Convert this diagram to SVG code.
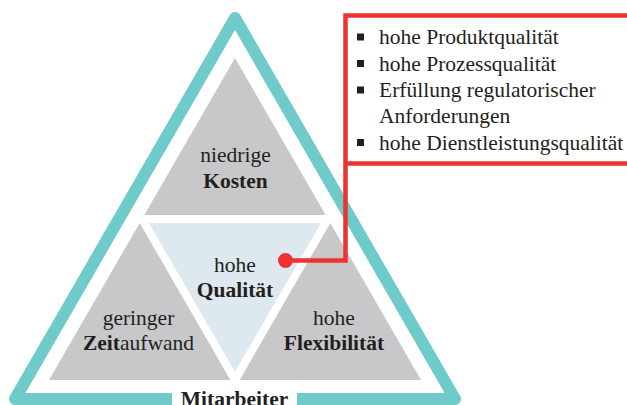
<svg xmlns="http://www.w3.org/2000/svg" width="627" height="405" viewBox="0 0 627 405">
<style>
text{font-family:"Liberation Serif","Times New Roman",serif;font-size:21.5px;fill:#231F20}
.b{font-weight:bold}
.c{text-anchor:middle}
.red{fill:none;stroke:#EE3131;stroke-width:4.5}
.bul{fill:#231F20}
</style>
<rect width="627" height="405" fill="#fff"/>
<g id="frame">
<polygon points="235,18 455,399 15,399" fill="none" stroke="#6FCACA" stroke-width="12" stroke-linejoin="round"/>
</g>
<g id="pyramid">
<polygon points="235,58 421,380 49,380" fill="#C8C8CA"/>
</g>
<g id="qualitaet">
<polygon points="142,219 328,219 235,380" fill="#DDE9EE" stroke="#fff" stroke-width="8" stroke-linejoin="miter"/>
<text class="c" x="235" y="272">hohe</text>
<text class="c b" x="235" y="297">Qualität</text>
</g>
<g id="kosten">
<text class="c" x="235.5" y="162">niedrige</text>
<text class="c b" x="235.5" y="188">Kosten</text>
</g>
<g id="zeitaufwand">
<text class="c" x="138.5" y="325">geringer</text>
<text class="c" x="138.5" y="350"><tspan class="b">Zeit</tspan>aufwand</text>
</g>
<g id="flexibilitaet">
<text class="c" x="334" y="325">hohe</text>
<text class="c b" x="334" y="350">Flexibilität</text>
</g>
<g id="mitarbeiter">
<rect x="172" y="385" width="125" height="25" fill="#fff"/>
<text class="c b" x="234.5" y="406">Mitarbeiter</text>
</g>
<g id="connectors">
<path class="red" d="M640,15.5 H345.5 V260.5 H286"/>
<path class="red" d="M345.5,163.5 H640"/>
<circle cx="285.5" cy="260.5" r="7.5" fill="#EE3131"/>
</g>
<g id="details">
<rect class="bul" x="357" y="33.5" width="7" height="7"/>
<rect class="bul" x="357" y="60" width="7" height="7"/>
<rect class="bul" x="357" y="86.5" width="7" height="7"/>
<rect class="bul" x="357" y="139" width="7" height="7"/>
<text x="379" y="44">hohe Produktqualität</text>
<text x="379" y="70.5">hohe Prozessqualität</text>
<text x="379" y="97">Erfüllung regulatorischer</text>
<text x="379" y="123">Anforderungen</text>
<text x="379" y="149.5">hohe Dienstleistungsqualität</text>
</g>
</svg>
